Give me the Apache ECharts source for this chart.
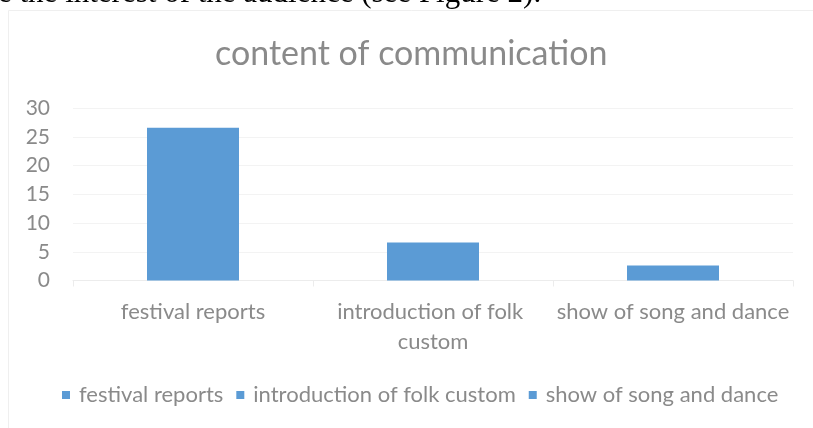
<!DOCTYPE html>
<html><head><meta charset="utf-8">
<script src="https://cdn.jsdelivr.net/npm/echarts@6/dist/echarts.min.js"></script>
<style>html,body{margin:0;padding:0;background:#fff;}#c{width:813px;height:428px;}</style>
</head><body><div id="c"></div>
<script>
const categories = ['festival reports', 'introduction of folk custom', 'show of song and dance'];
const values = [26.6, 6.6, 2.6];
const yTicks = [0, 5, 10, 15, 20, 25, 30];
const titleText = 'content of communication';
const captionText = 'e the interest of the audience (see Figure 2).';

const FONT = 'Lato';
const GRAY = '#8a8a8a';
const BLUE = '#5b9bd5';

const chart = echarts.init(document.getElementById('c'), null, {renderer: 'canvas'});
chart.setOption({
  animation: false,
  backgroundColor: '#fff',
  title: {
    text: titleText, left: 215, top: 37, padding: 0,
    textStyle: {fontFamily: FONT, fontSize: 34, fontWeight: 'normal', color: GRAY}
  },
  graphic: [
    {type: 'rect', shape: {x: 8.5, y: 10.5, width: 820, height: 430}, style: {fill: 'none', stroke: '#efefef', lineWidth: 1}, silent: true},
    {type: 'text', x: -2, y: -22, style: {text: captionText, font: '31px "Liberation Serif"', fill: '#000'}, silent: true}
  ],
  legend: {
    top: 384, left: 62, padding: 0,
    itemWidth: 8, itemHeight: 8, itemGap: 13,
    icon: 'rect',
    textStyle: {fontFamily: FONT, fontSize: 22, color: GRAY, padding: [0, 0, 0, 4]},
    data: categories.map(n => ({name: n, icon: 'rect'}))
  },
  grid: {left: 73, right: 20, top: 108.3, bottom: 147.5, containLabel: false},
  xAxis: {
    type: 'category', data: categories,
    axisLine: {show: true, lineStyle: {color: '#ececec', width: 1}},
    axisTick: {show: true, length: 6, lineStyle: {color: '#ececec'}},
    axisLabel: {
      fontFamily: FONT, fontSize: 22, color: GRAY, margin: 16, lineHeight: 30,
      width: 240, overflow: 'break', interval: 0
    }
  },
  yAxis: {
    type: 'value', min: yTicks[0], max: yTicks[yTicks.length - 1], interval: 5,
    axisLine: {show: false}, axisTick: {show: false},
    splitLine: {lineStyle: {color: '#f3f3f3', width: 1}},
    axisLabel: {fontFamily: FONT, fontSize: 21, color: GRAY, margin: 23}
  },
  series: categories.map((name, i) => ({
    name: name, type: 'bar', stack: 'all',
    data: categories.map((c, j) => j === i ? values[i] : null),
    barWidth: 92,
    itemStyle: {color: BLUE}
  }))
});
</script></body></html>
